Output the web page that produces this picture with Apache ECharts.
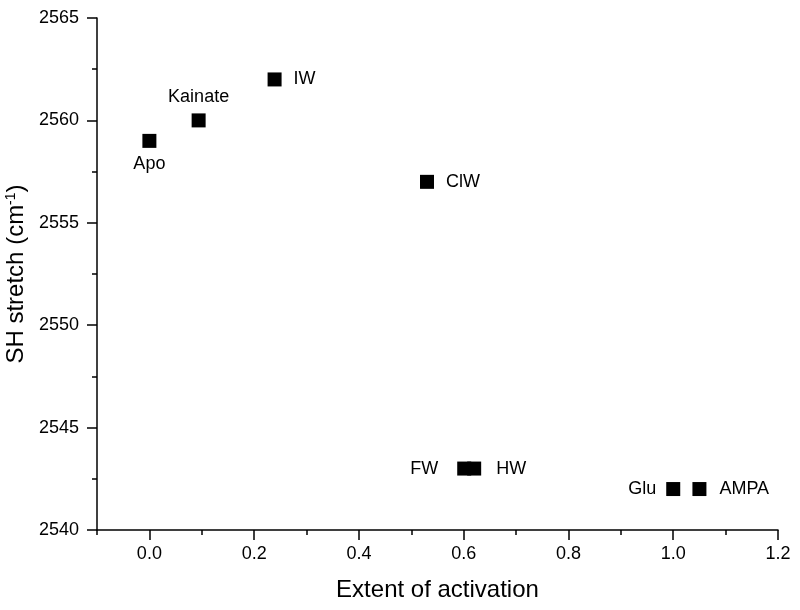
<!DOCTYPE html>
<html><head><meta charset="utf-8">
<script src="https://cdn.jsdelivr.net/npm/echarts@6/dist/echarts.min.js"></script>
<style>html,body{margin:0;padding:0;background:#fff}#c{width:800px;height:610px}</style>
</head><body><div id="c"></div>
<script>
const names = ["Apo","Kainate","IW","ClW","FW","HW","Glu","AMPA"];
const xVals = [0.0, 0.094, 0.239, 0.53, 0.601, 0.62, 1.0, 1.05];
const yVals = [2559, 2560, 2562, 2557, 2543, 2543, 2542, 2542];
const labelPos = ["bottom","top","right","right","left","right","left","right"];
const labelGap = [7, 7, 12, 12, 19, 15, 10, 13];
const xMajorTicks = [0.0, 0.2, 0.4, 0.6, 0.8, 1.0, 1.2];
const xMinorTicks = [-0.1, 0.1, 0.3, 0.5, 0.7, 0.9, 1.1];

const font = "Liberation Sans, Arial, sans-serif";
const data = names.map((n,i)=>({
  value:[xVals[i], yVals[i]],
  name:n,
  label:{show:true, formatter:n, position:labelPos[i], distance:labelGap[i],
         fontSize:18, color:'#000', fontFamily:font}
}));
const axLine = {show:true, onZero:false, lineStyle:{color:'#000', width:1.5}};
const chart = echarts.init(document.getElementById('c'));
chart.setOption({
  animation:false,
  backgroundColor:'#fff',
  grid:{left:97, right:22, top:18, bottom:80, outerBoundsMode:'none', containLabel:false},
  xAxis:[{type:'value', min:-0.1, max:1.2, position:'bottom',
    name:'Extent of activation', nameLocation:'middle', nameGap:48,
    nameTextStyle:{fontSize:24, color:'#000', fontFamily:font},
    axisLine:axLine,
    axisTick:{show:true, length:10, customValues:xMajorTicks, lineStyle:{color:'#000', width:1.5}},
    splitLine:{show:false},
    axisLabel:{fontSize:18, color:'#000', fontFamily:font, margin:15, customValues:xMajorTicks,
      formatter:v=>v.toFixed(1)}
  },{type:'value', min:-0.1, max:1.2, position:'bottom',
    axisLine:{show:false, onZero:false},
    axisTick:{show:true, length:5, customValues:xMinorTicks, lineStyle:{color:'#000', width:1.5}},
    axisLabel:{show:false}, splitLine:{show:false}
  }],
  yAxis:{type:'value', min:2540, max:2565, interval:5,
    name:'{a|SH stretch (cm}{s|-1}{a|)}', nameLocation:'middle', nameGap:59, nameRotate:90,
    nameTextStyle:{fontSize:24, color:'#000', fontFamily:font,
      rich:{a:{fontSize:24, color:'#000', fontFamily:font},
            s:{fontSize:14, color:'#000', fontFamily:font, verticalAlign:'top', lineHeight:24, padding:[0,0,10,0]}}},
    axisLine:axLine,
    axisTick:{show:true, length:10, lineStyle:{color:'#000', width:1.5}},
    minorTick:{show:true, splitNumber:2, length:5, lineStyle:{color:'#000', width:1.5}},
    splitLine:{show:false},
    axisLabel:{fontSize:18, color:'#000', fontFamily:font, margin:18, formatter:v=>String(v)}
  },
  series:[{type:'scatter', symbol:'rect', symbolSize:14, itemStyle:{color:'#000', opacity:1}, data:data}]
});
</script></body></html>
